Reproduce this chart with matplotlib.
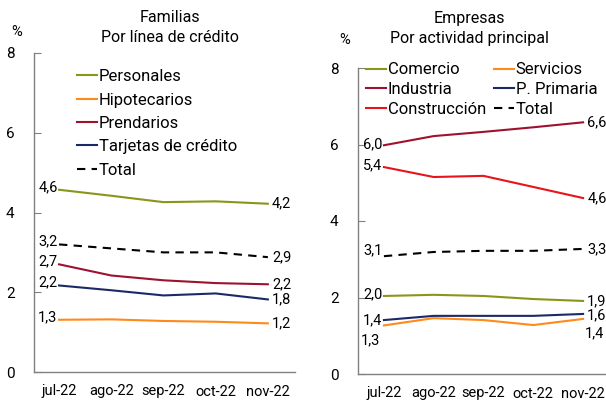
import matplotlib
matplotlib.use('Agg')
import matplotlib.pyplot as plt

plt.rcParams['font.family'] = ['Roboto', 'DejaVu Sans']
plt.rcParams['font.size'] = 10

months = ['jul-22', 'ago-22', 'sep-22', 'oct-22', 'nov-22']

# Familias, por linea de credito
personales = [4.57, 4.42, 4.26, 4.28, 4.22]
hipotecarios = [1.31, 1.32, 1.28, 1.26, 1.22]
prendarios = [2.70, 2.42, 2.30, 2.23, 2.20]
tarjetas = [2.17, 2.05, 1.92, 1.97, 1.82]
total_fam = [3.20, 3.10, 3.00, 3.00, 2.88]

# Empresas, por actividad principal
comercio = [2.04, 2.07, 2.04, 1.96, 1.91]
servicios = [1.27, 1.46, 1.41, 1.28, 1.44]
industria = [5.98, 6.22, 6.33, 6.45, 6.58]
primaria = [1.41, 1.52, 1.52, 1.52, 1.57]
construccion = [5.41, 5.15, 5.18, 4.89, 4.60]
total_emp = [3.08, 3.19, 3.22, 3.22, 3.27]

OLIVE = '#8a961a'
ORANGE = '#ff8a1c'
MAROON = '#9e1230'
NAVY = '#1b2a66'
RED = '#e8141c'
AXC = '#808080'

fig = plt.figure(figsize=(6.06, 4.0), dpi=100)
ax1 = fig.add_axes([0.0561, 0.07, 0.4307, 0.7975])
ax2 = fig.add_axes([0.5908, 0.065, 0.4092, 0.765])

x = range(len(months))


def style(ax, xmin, xmax):
    ax.set_xlim(xmin, xmax)
    ax.set_ylim(0, 8)
    ax.set_yticks([0, 2, 4, 6, 8])
    ax.set_xticks(list(x))
    ax.set_xticklabels(months)
    for s in ['top', 'right']:
        ax.spines[s].set_visible(False)
    for s in ['left', 'bottom']:
        ax.spines[s].set_color(AXC)
        ax.spines[s].set_linewidth(1.0)
    ax.tick_params(axis='y', direction='in', length=5, color=AXC, pad=14, labelsize=11)
    ax.tick_params(axis='x', length=0, pad=9, labelsize=10.5)


def fmt(v):
    return f'{v:.1f}'.replace('.', ',')


def lab(ax, xi, yi, dx, dy, ha='left', va='center'):
    ax.annotate(fmt(yi), (xi, yi), xytext=(dx, dy), textcoords='offset points',
                ha=ha, va=va, fontsize=10.5)


# left panel
ax1.plot(x, personales, color=OLIVE, lw=1.5, label='Personales')
ax1.plot(x, hipotecarios, color=ORANGE, lw=1.5, label='Hipotecarios')
ax1.plot(x, prendarios, color=MAROON, lw=1.5, label='Prendarios')
ax1.plot(x, tarjetas, color=NAVY, lw=1.5, label='Tarjetas de crédito')
ax1.plot(x, total_fam, color='black', lw=1.5, ls=(0, (4, 3)), label='Total')
style(ax1, -0.48, 4.52)

for ser in [personales, hipotecarios, prendarios, tarjetas, total_fam]:
    lab(ax1, 0, ser[0], -1, 2, ha='right')
    lab(ax1, 4, ser[-1], 3, 0)

ax1.legend(loc='upper left', bbox_to_anchor=(0.139, 0.97), frameon=False,
           handlelength=1.2, handletextpad=0.1, labelspacing=0.5, fontsize=12,
           borderaxespad=0)
fig.text(0.028, 0.92, '%', ha='center', va='center', fontsize=10.5)
fig.text(0.28, 0.955, 'Familias', ha='center', va='center', fontsize=11.5)
fig.text(0.28, 0.905, 'Por línea de crédito', ha='center', va='center', fontsize=11.5)

# right panel
l_com, = ax2.plot(x, comercio, color=OLIVE, lw=1.5, label='Comercio')
l_ser, = ax2.plot(x, servicios, color=ORANGE, lw=1.5, label='Servicios')
l_ind, = ax2.plot(x, industria, color=MAROON, lw=1.5, label='Industria')
l_pri, = ax2.plot(x, primaria, color=NAVY, lw=1.5, label='P. Primaria')
l_con, = ax2.plot(x, construccion, color=RED, lw=1.5, label='Construcción')
l_tot, = ax2.plot(x, total_emp, color='black', lw=1.5, ls=(0, (4, 3)), label='Total')
style(ax2, -0.52, 4.46)

lab(ax2, 0, industria[0], -1, 1, ha='right')
lab(ax2, 0, construccion[0], -1, 1, ha='right')
lab(ax2, 0, total_emp[0], -1, 4, ha='right')
lab(ax2, 0, comercio[0], -1, 1, ha='right')
lab(ax2, 0, primaria[0], -1, 0, ha='right')
lab(ax2, 0, servicios[0], -3, -11, ha='right')
lab(ax2, 4, industria[-1], 3, 0)
lab(ax2, 4, construccion[-1], 3, 0)
lab(ax2, 4, total_emp[-1], 3, 0)
lab(ax2, 4, comercio[-1], 3, 0)
lab(ax2, 4, primaria[-1], 3, -1)
lab(ax2, 4, servicios[-1], 1, -10)

ax2.legend(handles=[l_com, l_ind, l_con, l_ser, l_pri, l_tot], ncol=2,
           loc='upper left', bbox_to_anchor=(0.005, 1.04), frameon=False,
           handlelength=1.2, handletextpad=0.1, labelspacing=0.28,
           columnspacing=0.5, fontsize=12, borderaxespad=0)
fig.text(0.569, 0.9, '%', ha='center', va='center', fontsize=10.5)
fig.text(0.775, 0.955, 'Empresas', ha='center', va='center', fontsize=11.5)
fig.text(0.775, 0.905, 'Por actividad principal', ha='center', va='center', fontsize=11.5)

fig.savefig('out.png', dpi=100)
